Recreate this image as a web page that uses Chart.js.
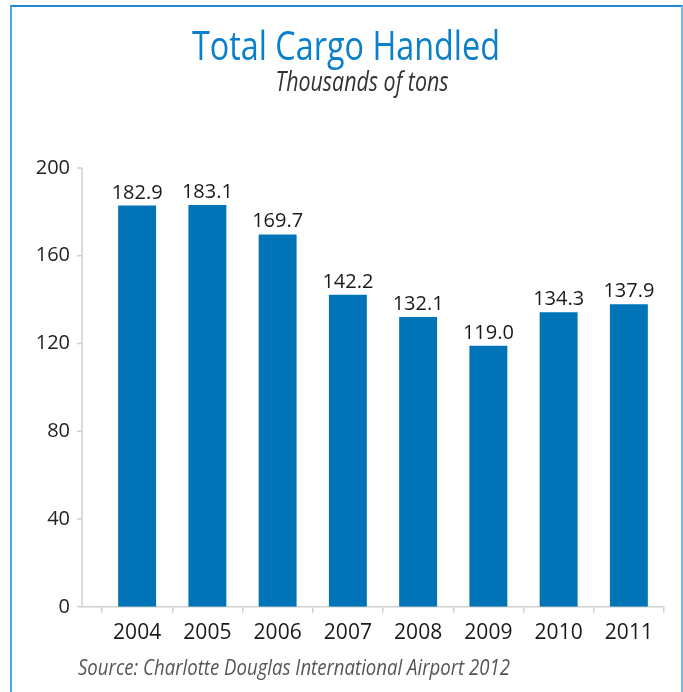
<!DOCTYPE html>
<html>
<head>
<meta charset="utf-8">
<title>Total Cargo Handled</title>
<script src="https://cdn.jsdelivr.net/npm/chart.js@4.4.1/dist/chart.umd.min.js"></script>
<style>
    html, body { margin: 0; padding: 0; background: #fff; overflow: hidden; }
    #wrap { position: relative; width: 683px; height: 692px; }
    #cargo { position: absolute; left: 0; top: 0; }
    #frame {
        position: absolute; left: 10px; top: 5px; width: 669px; height: 720px;
        border-top: 2px solid #1f8ad2;
        border-left: 2px solid #4ea7de;
        border-right: 2px solid #79bde6;
        pointer-events: none;
    }
</style>
</head>
<body>
<div id="wrap">
    <canvas id="cargo" width="683" height="692"></canvas>
    <div id="frame"></div>
</div>
<script>
const years = ["2004", "2005", "2006", "2007", "2008", "2009", "2010", "2011"];
const cargo = [182.9, 183.1, 169.7, 142.2, 132.1, 119.0, 134.3, 137.9];
const yTicks = [0, 40, 80, 120, 160, 200];

const titleText = "Total Cargo Handled";
const subtitleText = "Thousands of tons";
const sourceText = "Source: Charlotte Douglas International Airport 2012";

const textFont = "'Open Sans', 'Liberation Sans', sans-serif";
const axisGray = "#cfcfcf";

// squeeze text to a given width so it reads like the condensed face in the original
function fitText(ctx, text, x, y, width, align) {
    const w = ctx.measureText(text).width;
    ctx.save();
    ctx.translate(x, y);
    ctx.scale(width / w, 1);
    ctx.textAlign = align;
    ctx.fillText(text, 0, 0);
    ctx.restore();
}

// y axis line + tick marks sit left of the plot, like the original
const axisLine = {
    id: "axisLine",
    afterDraw(chart) {
        const ctx = chart.ctx;
        const y = chart.scales.y;
        const x0 = 82;
        ctx.save();
        ctx.strokeStyle = axisGray;
        ctx.lineWidth = 1.5;
        ctx.beginPath();
        ctx.moveTo(x0, y.getPixelForValue(200));
        ctx.lineTo(x0, y.getPixelForValue(0));
        y.ticks.forEach(t => {
            const py = y.getPixelForValue(t.value);
            ctx.moveTo(x0 - 5, py);
            ctx.lineTo(x0, py);
        });
        ctx.moveTo(x0 - 5, y.getPixelForValue(0));
        ctx.lineTo(chart.chartArea.left, y.getPixelForValue(0));
        ctx.stroke();
        ctx.restore();
    }
};

// value labels above bars
const valueLabels = {
    id: "valueLabels",
    afterDatasetsDraw(chart) {
        const ctx = chart.ctx;
        const meta = chart.getDatasetMeta(0);
        ctx.save();
        ctx.font = "20px " + textFont;
        ctx.fillStyle = "#1a1a1a";
        ctx.textAlign = "center";
        ctx.textBaseline = "alphabetic";
        meta.data.forEach((bar, i) => {
            ctx.fillText(cargo[i].toFixed(1), bar.x, bar.y - 7);
        });
        ctx.restore();
    }
};

// title, subtitle and source line
const captions = {
    id: "captions",
    afterDraw(chart) {
        const ctx = chart.ctx;
        ctx.save();
        ctx.textBaseline = "alphabetic";
        ctx.font = "40px " + textFont;
        ctx.fillStyle = "#0a80cb";
        fitText(ctx, titleText, 346, 60, 308, "center");
        ctx.font = "italic 27px " + textFont;
        ctx.fillStyle = "#333";
        fitText(ctx, subtitleText, 362, 91, 173, "center");
        ctx.font = "italic 21px " + textFont;
        ctx.fillStyle = "#555";
        fitText(ctx, sourceText, 78, 675, 432, "left");
        ctx.restore();
    }
};

new Chart(document.getElementById("cargo"), {
    type: "bar",
    data: {
        labels: years,
        datasets: [{
            data: cargo,
            backgroundColor: "#0074b7",
            borderWidth: 0,
            categoryPercentage: 1,
            barPercentage: 0.54
        }]
    },
    options: {
        responsive: false,
        animation: false,
        devicePixelRatio: 1,
        layout: { padding: { top: 168, left: 28, right: 19, bottom: 38 } },
        plugins: {
            legend: { display: false },
            tooltip: { enabled: false },
            title: { display: false }
        },
        scales: {
            x: {
                offset: true,
                grid: {
                    display: true,
                    offset: true,
                    drawOnChartArea: false,
                    drawTicks: true,
                    tickLength: 6,
                    color: axisGray,
                    lineWidth: 1.5
                },
                border: { display: true, color: axisGray, width: 1.5 },
                ticks: {
                    color: "#1a1a1a",
                    font: { family: textFont, size: 21 },
                    padding: 8,
                    maxRotation: 0
                }
            },
            y: {
                min: 0,
                max: 200,
                afterBuildTicks: s => { s.ticks = yTicks.map(v => ({ value: v })); },
                afterFit: s => { s.width = 74; },
                grid: { display: false },
                border: { display: false },
                ticks: {
                    color: "#222",
                    font: { family: textFont, size: 20 },
                    padding: 24
                }
            }
        }
    },
    plugins: [axisLine, valueLabels, captions]
});
</script>
</body>
</html>
